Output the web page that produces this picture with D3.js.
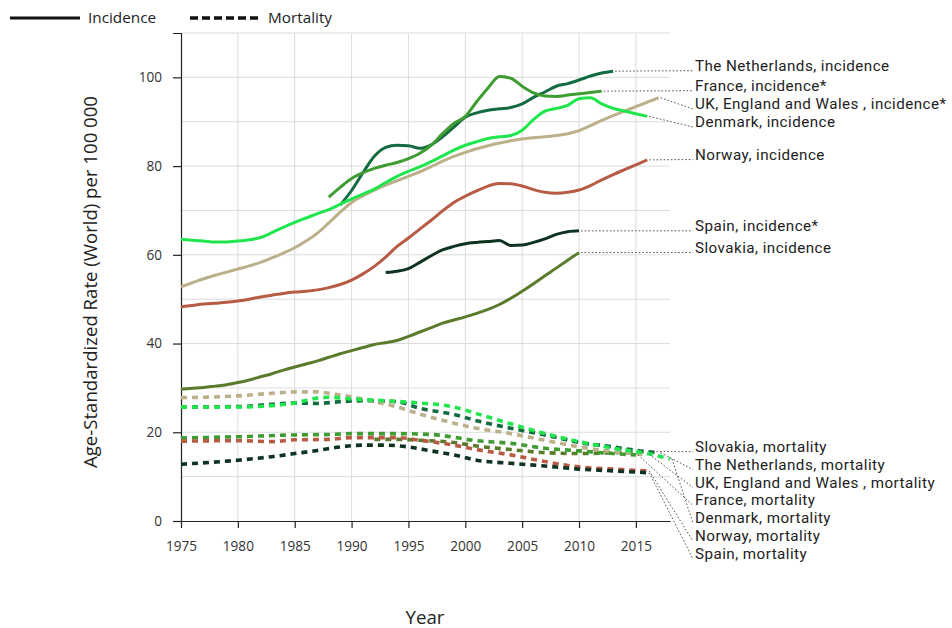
<!DOCTYPE html>
<html>
<head>
<meta charset="utf-8">
<script src="https://cdn.jsdelivr.net/npm/d3@7"></script>
<style>
  html, body { margin: 0; padding: 0; background: #fff; }
  svg { display: block; font-family: "Open Sans", "Noto Sans", sans-serif; }
  .end-label { font-family: Roboto, "Open Sans", sans-serif; letter-spacing: 0.45px; }
</style>
</head>
<body>
<svg id="chart" width="952" height="628"></svg>
<script>
// Colon cancer age-standardized rates (World) per 100 000, by country

const countries = ["The Netherlands", "France", "UK, England and Wales ", "Denmark", "Norway", "Spain", "Slovakia"];
const colors = {
  "The Netherlands": "#136b40",
  "France": "#3f9c32",
  "UK, England and Wales ": "#bbb08a",
  "Denmark": "#20e64d",
  "Norway": "#b75b45",
  "Spain": "#0e3421",
  "Slovakia": "#5a7b2b"
};

// Incidence series: [year, rate]
const incNetherlands = [[1989,71.2],[1990,74.5],[1991,78.5],[1992,82.2],[1993,84.2],[1994,84.7],[1995,84.6],[1996,84.0],[1997,84.8],[1998,86.6],[1999,88.8],[2000,91.0],[2001,92.0],[2002,92.6],[2003,92.9],[2004,93.2],[2005,94.0],[2006,95.5],[2007,96.7],[2008,98.0],[2009,98.6],[2010,99.4],[2011,100.3],[2012,101.0],[2013,101.4]];
const incFrance = [[1988,73.0],[1989,75.2],[1990,77.2],[1991,78.5],[1992,79.5],[1993,80.2],[1994,80.8],[1995,81.7],[1996,82.9],[1997,84.7],[1998,87.3],[1999,89.6],[2000,91.2],[2001,94.5],[2002,97.6],[2003,100.2],[2004,99.8],[2005,98.0],[2006,96.5],[2007,95.8],[2008,95.7],[2009,96.0],[2010,96.3],[2011,96.6],[2012,96.9]];
const incUK = [[1975,52.8],[1976,53.7],[1977,54.6],[1978,55.4],[1979,56.1],[1980,56.8],[1981,57.5],[1982,58.3],[1983,59.3],[1984,60.4],[1985,61.6],[1986,63.1],[1987,64.9],[1988,67.2],[1989,69.6],[1990,71.8],[1991,73.3],[1992,74.6],[1993,75.7],[1994,76.7],[1995,77.7],[1996,78.7],[1997,79.9],[1998,81.1],[1999,82.2],[2000,83.1],[2001,83.9],[2002,84.6],[2003,85.2],[2004,85.7],[2005,86.1],[2006,86.4],[2007,86.6],[2008,86.9],[2009,87.3],[2010,88.0],[2011,89.1],[2012,90.3],[2013,91.4],[2014,92.4],[2015,93.4],[2016,94.4],[2017,95.4]];
const incDenmark = [[1975,63.5],[1976,63.3],[1977,63.1],[1978,62.9],[1979,62.9],[1980,63.1],[1981,63.4],[1982,63.9],[1983,65.0],[1984,66.2],[1985,67.3],[1986,68.3],[1987,69.3],[1988,70.2],[1989,71.4],[1990,72.6],[1991,73.7],[1992,74.8],[1993,76.3],[1994,77.7],[1995,78.8],[1996,79.8],[1997,81.0],[1998,82.3],[1999,83.6],[2000,84.7],[2001,85.5],[2002,86.2],[2003,86.6],[2004,86.9],[2005,88.1],[2006,90.5],[2007,92.4],[2008,93.0],[2009,93.7],[2010,95.2],[2011,95.4],[2012,94.0],[2013,93.0],[2014,92.4],[2015,91.8],[2016,91.2]];
const incNorway = [[1975,48.3],[1976,48.6],[1977,48.9],[1978,49.1],[1979,49.3],[1980,49.6],[1981,50.0],[1982,50.5],[1983,50.9],[1984,51.3],[1985,51.6],[1986,51.8],[1987,52.1],[1988,52.6],[1989,53.3],[1990,54.3],[1991,55.7],[1992,57.4],[1993,59.5],[1994,61.9],[1995,63.8],[1996,65.8],[1997,67.8],[1998,69.9],[1999,71.8],[2000,73.2],[2001,74.4],[2002,75.5],[2003,76.1],[2004,76.0],[2005,75.5],[2006,74.7],[2007,74.1],[2008,73.9],[2009,74.1],[2010,74.6],[2011,75.6],[2012,76.9],[2013,78.1],[2014,79.2],[2015,80.3],[2016,81.4]];
const incSpain = [[1993,56.0],[1994,56.3],[1995,56.9],[1996,58.3],[1997,59.8],[1998,61.1],[1999,61.9],[2000,62.5],[2001,62.8],[2002,63.0],[2003,63.2],[2004,62.1],[2005,62.2],[2006,62.8],[2007,63.6],[2008,64.6],[2009,65.2],[2010,65.4]];
const incSlovakia = [[1975,29.7],[1976,29.9],[1977,30.1],[1978,30.4],[1979,30.7],[1980,31.2],[1981,31.8],[1982,32.5],[1983,33.2],[1984,34.0],[1985,34.7],[1986,35.4],[1987,36.1],[1988,36.9],[1989,37.7],[1990,38.4],[1991,39.1],[1992,39.8],[1993,40.2],[1994,40.7],[1995,41.6],[1996,42.6],[1997,43.6],[1998,44.6],[1999,45.3],[2000,46.0],[2001,46.8],[2002,47.7],[2003,48.8],[2004,50.2],[2005,51.8],[2006,53.5],[2007,55.3],[2008,57.0],[2009,58.8],[2010,60.5]];

// Mortality series: [year, rate]
const morSlovakia = [[1992,18.4],[1994,18.4],[1996,18.2],[1999,17.7],[2001,16.9],[2004,16.1],[2007,15.4],[2010,15.2],[2013,15.4],[2016,15.7]];
const morNetherlands = [[1975,25.7],[1980,25.8],[1983,26.3],[1985,26.6],[1987,26.5],[1989,26.9],[1991,27.1],[1994,26.9],[1996,25.4],[1999,24.0],[2001,22.6],[2004,20.9],[2007,19.4],[2010,17.7],[2013,16.7],[2016,15.6],[2017,15.4]];
const morUK = [[1975,27.8],[1980,28.2],[1983,28.8],[1985,29.1],[1987,29.1],[1988,28.8],[1990,28.0],[1992,26.9],[1994,25.7],[1996,24.1],[1998,22.7],[2001,20.9],[2004,19.7],[2007,18.2],[2010,16.7],[2013,15.6],[2016,15.0]];
const morFrance = [[1975,18.7],[1980,19.0],[1985,19.4],[1988,19.5],[1990,19.7],[1994,19.7],[1997,19.5],[2001,18.1],[2004,17.5],[2007,16.4],[2010,15.8],[2013,15.2],[2015,14.9]];
const morDenmark = [[1975,25.7],[1980,25.7],[1983,26.0],[1985,26.6],[1987,27.7],[1988,27.9],[1990,27.5],[1993,27.1],[1996,26.6],[1999,25.7],[2001,24.2],[2004,21.9],[2007,19.7],[2010,17.9],[2013,16.4],[2016,15.2],[2018,14.0]];
const morNorway = [[1975,18.0],[1980,18.1],[1983,17.9],[1985,18.3],[1988,18.4],[1990,18.8],[1994,18.8],[1996,18.2],[1999,17.1],[2001,16.1],[2004,14.9],[2007,13.4],[2010,12.2],[2013,11.7],[2016,11.3]];
const morSpain = [[1975,12.8],[1980,13.7],[1983,14.5],[1985,15.2],[1987,15.9],[1989,16.7],[1991,17.1],[1993,17.1],[1995,16.7],[1997,15.8],[1999,14.9],[2001,13.7],[2004,13.0],[2007,12.4],[2010,11.7],[2013,11.3],[2016,10.9]];

const xTicks = [1975, 1980, 1985, 1990, 1995, 2000, 2005, 2010, 2015];
const yTicks = [0, 20, 40, 60, 80, 100];

const incidence = [
  {country: "The Netherlands", label: "The Netherlands, incidence", values: incNetherlands},
  {country: "France", label: "France, incidence*", values: incFrance},
  {country: "UK, England and Wales ", label: "UK, England and Wales , incidence*", values: incUK},
  {country: "Denmark", label: "Denmark, incidence", values: incDenmark},
  {country: "Norway", label: "Norway, incidence", values: incNorway},
  {country: "Spain", label: "Spain, incidence*", values: incSpain},
  {country: "Slovakia", label: "Slovakia, incidence", values: incSlovakia}
];
const mortality = [
  {country: "Slovakia", label: "Slovakia, mortality", values: morSlovakia},
  {country: "The Netherlands", label: "The Netherlands, mortality", values: morNetherlands},
  {country: "UK, England and Wales ", label: "UK, England and Wales , mortality", values: morUK},
  {country: "France", label: "France, mortality", values: morFrance},
  {country: "Denmark", label: "Denmark, mortality", values: morDenmark},
  {country: "Norway", label: "Norway, mortality", values: morNorway},
  {country: "Spain", label: "Spain, mortality", values: morSpain}
];

const svg = d3.select("#chart");
const plot = {left: 181, top: 33, right: 670, bottom: 521};

const x = d3.scaleLinear().domain([1975, 2018]).range([plot.left, plot.right]);
const y = d3.scaleLinear().domain([0, 110]).range([plot.bottom, plot.top]);

// grid
const grid = svg.append("g");
grid.selectAll("line.h").data(d3.range(10, 111, 10)).join("line")
  .attr("x1", x(1975)).attr("x2", x(2018))
  .attr("y1", d => y(d)).attr("y2", d => y(d))
  .attr("stroke", "#dcdcdc").attr("stroke-width", 1);
grid.selectAll("line.v").data(xTicks.slice(1)).join("line")
  .attr("x1", d => x(d)).attr("x2", d => x(d))
  .attr("y1", y(0)).attr("y2", y(110))
  .attr("stroke", "#dcdcdc").attr("stroke-width", 1);

// axes
const xAxis = svg.append("g").attr("transform", `translate(0,${y(0)})`)
  .call(d3.axisBottom(x).tickValues(xTicks).tickFormat(d3.format("d"))
    .tickSize(7).tickSizeOuter(0).tickPadding(13));
const yAxis = svg.append("g").attr("transform", `translate(${x(1975)},0)`)
  .call(d3.axisLeft(y).tickValues(yTicks).tickSize(8).tickSizeOuter(8).tickPadding(11));
[xAxis, yAxis].forEach(a => {
  a.selectAll("path, line").attr("stroke", "#222").attr("stroke-width", 1.2);
  a.selectAll("text").attr("fill", "#333").style("font-size", "13.6px")
    .style("font-family", "'Open Sans', 'Noto Sans', sans-serif");
});

// axis titles
svg.append("text")
  .attr("transform", `translate(97,${(y(0) + y(110)) / 2 + 5}) rotate(-90)`)
  .attr("text-anchor", "middle").attr("fill", "#222").style("font-size", "18.6px")
  .text("Age-Standardized Rate (World) per 100 000");
svg.append("text")
  .attr("x", 425).attr("y", 624).attr("text-anchor", "middle")
  .attr("fill", "#222").style("font-size", "18.6px").text("Year");

const line = d3.line().x(d => x(d[0])).y(d => y(d[1])).curve(d3.curveMonotoneX);

// mortality lines (dashed)
svg.append("g").selectAll("path").data(mortality).join("path")
  .attr("d", d => line(d.values))
  .attr("fill", "none").attr("stroke", d => colors[d.country])
  .attr("stroke-width", 3.6).attr("stroke-dasharray", "6,5");

// incidence lines (solid)
svg.append("g").selectAll("path").data(incidence).join("path")
  .attr("d", d => line(d.values))
  .attr("fill", "none").attr("stroke", d => colors[d.country])
  .attr("stroke-width", 3);

// end labels with dotted leaders
const labelX = 695;
const incLabelY = [70.7, 90.7, 109, 127, 159.5, 230.8, 252.5];
const morLabelY = d3.range(7).map(i => 451.7 + i * 17.9);

function addLabels(series, ys) {
  const g = svg.append("g");
  series.forEach((s, i) => {
    const last = s.values[s.values.length - 1];
    g.append("line")
      .attr("x1", x(last[0]) + 2).attr("y1", y(last[1]))
      .attr("x2", labelX - 2).attr("y2", ys[i])
      .attr("stroke", "#555").attr("stroke-width", 1)
      .attr("stroke-dasharray", "1.6,2");
    g.append("text").attr("class", "end-label")
      .attr("x", labelX).attr("y", ys[i])
      .attr("fill", "#222").style("font-size", "15.2px")
      .text(s.label);
  });
}
addLabels(incidence, incLabelY);
addLabels(mortality, morLabelY);

// legend
const legend = svg.append("g");
legend.append("line").attr("x1", 10).attr("x2", 80).attr("y1", 18).attr("y2", 18)
  .attr("stroke", "#111").attr("stroke-width", 3);
legend.append("text").attr("x", 88).attr("y", 23).attr("fill", "#222")
  .style("font-size", "15.3px").text("Incidence");
legend.append("line").attr("x1", 190).attr("x2", 259).attr("y1", 18).attr("y2", 18)
  .attr("stroke", "#111").attr("stroke-width", 3.6).attr("stroke-dasharray", "8,4");
legend.append("text").attr("x", 268).attr("y", 23).attr("fill", "#222")
  .style("font-size", "15.3px").text("Mortality");
</script>
</body>
</html>
